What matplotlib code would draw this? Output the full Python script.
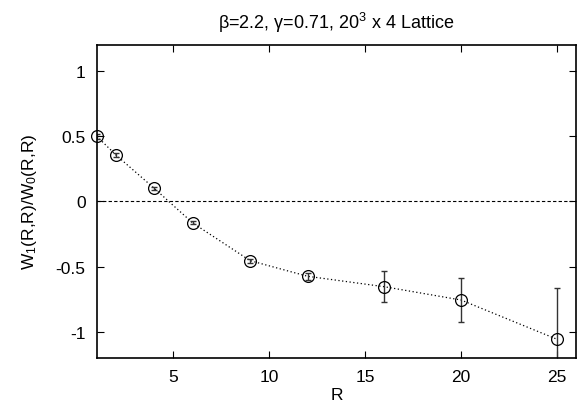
import numpy as np
import matplotlib
matplotlib.use("Agg")
import matplotlib.pyplot as plt

plt.rcParams['font.family'] = ['Liberation Sans', 'DejaVu Sans']
plt.rcParams['axes.unicode_minus'] = False
plt.rcParams['mathtext.fontset'] = 'custom'
plt.rcParams['mathtext.rm'] = 'Liberation Sans'
plt.rcParams['mathtext.it'] = 'Liberation Sans'

# data
R = [1, 2, 4, 6, 9, 12, 16, 20, 25]
ratio = [0.50, 0.356, 0.10, -0.165, -0.455, -0.575, -0.655, -0.757, -1.058]
err = [0.02, 0.015, 0.012, 0.012, 0.015, 0.025, 0.117, 0.168, 0.39]

x_ticks = [5, 10, 15, 20, 25]
y_ticks = [-1, -0.5, 0, 0.5, 1]
y_labels = ['-1', '-0.5', '0', '0.5', '1']

fig = plt.figure(figsize=(5.79, 4.10), dpi=100)
ax = fig.add_axes([0.167, 0.125, 0.828, 0.763])

ax.axhline(0, color='black', lw=0.8, ls=(0, (3, 2)))
ax.plot(R, ratio, color='black', lw=0.9, ls=(0, (1, 2)))
ax.errorbar(R, ratio, yerr=err, fmt='none', ecolor='#333333',
            elinewidth=1.0, capsize=2.5, capthick=1.0)
ax.plot(R, ratio, 'o', mfc='none', mec='black', ms=8.5, mew=0.9,
        clip_on=False, zorder=5)

ax.set_xlim(1, 26)
ax.set_ylim(-1.2, 1.2)
ax.set_xticks(x_ticks)
ax.set_yticks(y_ticks)
ax.set_yticklabels(y_labels)
ax.tick_params(direction='in', top=True, right=True, length=5,
               width=0.8, labelsize=12.5, pad=8)
for s in ax.spines.values():
    s.set_linewidth(1.2)

ax.set_xlabel('R', fontsize=12.5, labelpad=2)
ax.set_ylabel(r'W$_1$(R,R)/W$_0$(R,R)', fontsize=12.5, labelpad=12)
ax.set_title(r'β=2.2, γ=0.71, 20$^3$ x 4 Lattice', fontsize=13, pad=12)

fig.savefig('out.png', dpi=100)
